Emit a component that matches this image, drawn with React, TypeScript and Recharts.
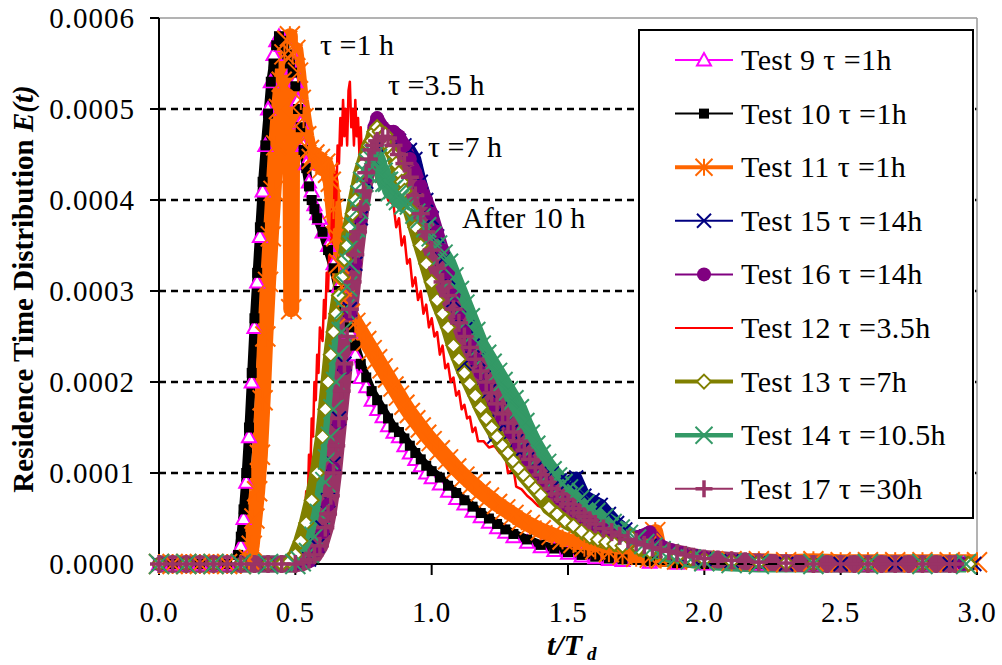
import React from 'react'
import { LineChart, Line, XAxis, YAxis, ReferenceLine } from 'recharts'

type Pt = [number, number]

// t/Td against E(t), E(t) written in units of 1e-4
const test9: Pt[] = [[0,0],[0.05,0],[0.1,0],[0.15,0],[0.2,0],[0.25,0],[0.28,0.05],[0.3,0.2],[0.31,0.5],[0.32,0.9],[0.33,1.4],[0.34,2.0],[0.35,2.6],[0.36,3.1],[0.37,3.6],[0.38,4.1],[0.39,4.6],[0.4,5.0],[0.41,5.3],[0.42,5.6],[0.43,5.75],[0.44,5.8],[0.45,5.7],[0.46,5.75],[0.47,5.6],[0.48,5.65],[0.49,5.45],[0.5,5.3],[0.51,5.1],[0.52,4.85],[0.53,4.6],[0.54,4.4],[0.55,4.2],[0.56,4.1],[0.57,3.95],[0.58,3.85],[0.59,3.8],[0.6,3.65],[0.62,3.5],[0.64,3.3],[0.66,3.05],[0.68,2.8],[0.7,2.55],[0.72,2.3],[0.74,2.05],[0.76,1.95],[0.78,1.8],[0.8,1.7],[0.82,1.62],[0.84,1.52],[0.86,1.45],[0.88,1.4],[0.9,1.3],[0.92,1.22],[0.94,1.15],[0.96,1.08],[0.98,1.0],[1.0,0.95],[1.03,0.88],[1.06,0.8],[1.09,0.72],[1.12,0.66],[1.15,0.58],[1.18,0.52],[1.21,0.46],[1.24,0.4],[1.27,0.35],[1.3,0.3],[1.35,0.24],[1.4,0.19],[1.45,0.15],[1.5,0.12],[1.55,0.09],[1.6,0.07],[1.65,0.05],[1.7,0.04],[1.8,0.02],[1.9,0.01],[2.0,0],[2.2,0],[2.4,0],[2.6,0],[2.8,0],[2.95,0]]

const test10: Pt[] = [[0,0],[0.05,0],[0.1,0],[0.15,0],[0.2,0],[0.25,0],[0.29,0.1],[0.3,0.3],[0.31,0.6],[0.32,1.0],[0.33,1.5],[0.34,2.1],[0.35,2.7],[0.36,3.2],[0.37,3.7],[0.38,4.2],[0.39,4.6],[0.4,4.95],[0.41,5.3],[0.42,5.5],[0.43,5.7],[0.44,5.8],[0.45,5.75],[0.46,5.7],[0.47,5.6],[0.48,5.5],[0.49,5.4],[0.5,5.25],[0.51,5.0],[0.52,4.8],[0.53,4.55],[0.54,4.35],[0.55,4.15],[0.56,4.0],[0.57,3.9],[0.58,3.8],[0.6,3.65],[0.62,3.45],[0.64,3.25],[0.66,3.0],[0.68,2.8],[0.7,2.6],[0.72,2.4],[0.74,2.2],[0.76,2.05],[0.78,1.9],[0.8,1.8],[0.82,1.7],[0.84,1.6],[0.86,1.5],[0.88,1.45],[0.9,1.38],[0.92,1.3],[0.94,1.22],[0.96,1.15],[0.98,1.08],[1.0,1.02],[1.03,0.95],[1.06,0.86],[1.09,0.78],[1.12,0.7],[1.15,0.63],[1.18,0.56],[1.21,0.5],[1.24,0.44],[1.27,0.38],[1.3,0.33],[1.35,0.27],[1.4,0.21],[1.45,0.17],[1.5,0.13],[1.55,0.1],[1.6,0.08],[1.65,0.06],[1.7,0.05],[1.8,0.03],[1.9,0.01],[2.0,0],[2.2,0],[2.4,0],[2.6,0],[2.8,0],[2.95,0]]

const test11: Pt[] = [[0,0],[0.05,0],[0.1,0],[0.15,0],[0.2,0],[0.25,0],[0.3,0],[0.33,0.05],[0.34,0.2],[0.35,0.5],[0.36,0.8],[0.37,1.2],[0.38,1.8],[0.39,2.5],[0.4,3.1],[0.41,3.6],[0.42,4.1],[0.43,4.6],[0.44,5.0],[0.45,5.3],[0.46,5.6],[0.47,5.75],[0.48,5.8],[0.485,2.8],[0.49,5.6],[0.5,5.65],[0.51,5.4],[0.52,5.1],[0.53,4.9],[0.54,4.7],[0.55,4.55],[0.56,4.45],[0.57,4.5],[0.58,4.4],[0.59,4.45],[0.6,4.35],[0.61,4.4],[0.62,4.3],[0.63,4.2],[0.64,3.9],[0.65,3.6],[0.66,3.3],[0.67,3.05],[0.68,2.9],[0.7,2.75],[0.72,2.65],[0.74,2.55],[0.76,2.45],[0.78,2.35],[0.8,2.25],[0.82,2.15],[0.84,2.05],[0.86,1.95],[0.88,1.85],[0.9,1.75],[0.92,1.66],[0.94,1.58],[0.96,1.5],[0.98,1.42],[1.0,1.35],[1.03,1.25],[1.06,1.15],[1.09,1.05],[1.12,0.96],[1.15,0.88],[1.18,0.8],[1.21,0.73],[1.24,0.66],[1.27,0.6],[1.3,0.54],[1.33,0.48],[1.36,0.43],[1.4,0.37],[1.44,0.32],[1.48,0.27],[1.52,0.23],[1.56,0.19],[1.6,0.16],[1.65,0.13],[1.7,0.1],[1.75,0.08],[1.8,0.07],[1.82,0.35],[1.84,0.06],[1.9,0.05],[2.0,0.04],[2.1,0.03],[2.2,0.03],[2.3,0.02],[2.4,0.03],[2.5,0.02],[2.6,0.02],[2.7,0.02],[2.8,0.02],[2.9,0.02],[3.0,0.02]]

const test15: Pt[] = [[0,0],[0.1,0],[0.2,0],[0.3,0],[0.4,0],[0.5,0],[0.55,0.05],[0.58,0.2],[0.6,0.4],[0.62,0.7],[0.64,1.1],[0.66,1.6],[0.68,2.2],[0.7,2.8],[0.72,3.3],[0.74,3.8],[0.76,4.2],[0.78,4.45],[0.8,4.6],[0.82,4.7],[0.84,4.72],[0.86,4.7],[0.88,4.65],[0.9,4.6],[0.92,4.55],[0.94,4.45],[0.96,4.2],[0.98,4.0],[1.0,3.8],[1.02,3.6],[1.04,3.35],[1.06,3.15],[1.08,2.9],[1.1,2.7],[1.12,2.2],[1.13,2.6],[1.15,2.4],[1.17,2.25],[1.19,2.05],[1.21,1.9],[1.23,1.4],[1.25,1.7],[1.27,1.55],[1.29,1.45],[1.31,1.35],[1.33,1.25],[1.35,1.15],[1.38,1.05],[1.41,0.95],[1.44,1.0],[1.47,0.92],[1.5,0.9],[1.53,0.95],[1.56,0.75],[1.59,0.7],[1.62,0.65],[1.65,0.55],[1.68,0.45],[1.71,0.38],[1.74,0.3],[1.77,0.25],[1.8,0.2],[1.85,0.15],[1.9,0.11],[1.95,0.08],[2.0,0.05],[2.1,0.03],[2.2,0.01],[2.3,0],[2.5,0],[2.7,0],[2.9,0],[2.99,0]]

const test16: Pt[] = [[0,0],[0.1,0],[0.2,0],[0.3,0],[0.4,0],[0.5,0],[0.55,0.03],[0.58,0.15],[0.6,0.35],[0.62,0.65],[0.64,1.05],[0.66,1.55],[0.68,2.15],[0.7,2.75],[0.72,3.3],[0.74,3.8],[0.76,4.25],[0.78,4.6],[0.79,4.8],[0.8,4.9],[0.82,4.8],[0.84,4.75],[0.86,4.75],[0.88,4.7],[0.9,4.6],[0.92,4.45],[0.94,4.3],[0.96,4.15],[0.98,4.0],[1.0,3.85],[1.02,3.65],[1.04,3.45],[1.06,3.2],[1.08,2.95],[1.1,2.75],[1.12,2.55],[1.14,2.4],[1.16,2.25],[1.18,2.1],[1.2,1.95],[1.23,1.75],[1.26,1.6],[1.29,1.45],[1.32,1.3],[1.35,1.15],[1.38,1.02],[1.41,0.9],[1.44,0.8],[1.47,0.72],[1.5,0.64],[1.53,0.57],[1.56,0.5],[1.6,0.43],[1.64,0.37],[1.68,0.32],[1.72,0.28],[1.76,0.3],[1.8,0.35],[1.84,0.2],[1.88,0.15],[1.92,0.12],[1.96,0.09],[2.0,0.07],[2.1,0.04],[2.2,0.02],[2.3,0.01],[2.4,0],[2.6,0],[2.8,0],[2.95,0]]

const test12: Pt[] = [[0,0],[0.1,0],[0.2,0],[0.3,0],[0.4,0],[0.48,0],[0.5,0.15],[0.51,0.1],[0.52,0.45],[0.53,0.35],[0.54,0.8],[0.545,0.6],[0.55,1.2],[0.555,1.0],[0.56,1.6],[0.565,1.4],[0.57,2.0],[0.575,1.8],[0.58,2.3],[0.585,2.1],[0.59,2.6],[0.6,2.45],[0.605,2.9],[0.61,2.7],[0.615,3.2],[0.62,3.0],[0.625,3.5],[0.63,3.3],[0.635,3.9],[0.64,3.7],[0.645,4.3],[0.65,4.0],[0.655,4.6],[0.66,4.4],[0.665,4.9],[0.67,4.6],[0.675,5.1],[0.68,4.7],[0.685,5.0],[0.69,4.6],[0.695,5.2],[0.7,5.3],[0.705,4.8],[0.71,5.0],[0.715,4.6],[0.72,5.1],[0.725,4.7],[0.73,4.9],[0.735,4.5],[0.74,4.8],[0.745,4.4],[0.75,4.6],[0.76,4.5],[0.77,4.3],[0.78,4.45],[0.8,4.2],[0.82,4.25],[0.84,4.0],[0.86,3.95],[0.87,3.7],[0.88,3.8],[0.89,3.5],[0.9,3.6],[0.91,3.3],[0.92,3.35],[0.93,3.05],[0.94,3.15],[0.95,2.9],[0.96,3.0],[0.97,2.75],[0.98,2.85],[0.99,2.6],[1.0,2.7],[1.01,2.5],[1.02,2.55],[1.03,2.3],[1.04,2.4],[1.05,2.15],[1.06,2.2],[1.07,2.0],[1.08,2.05],[1.09,1.85],[1.1,1.9],[1.11,1.7],[1.12,1.75],[1.13,1.6],[1.14,1.62],[1.15,1.45],[1.16,1.5],[1.17,1.35],[1.19,1.35],[1.21,1.28],[1.23,1.3],[1.25,1.22],[1.27,1.2],[1.28,1.0],[1.3,1.05],[1.31,0.85],[1.33,0.82],[1.35,0.75],[1.37,0.7],[1.39,0.64],[1.42,0.6],[1.45,0.55],[1.5,0.48],[1.55,0.42],[1.6,0.35],[1.65,0.3],[1.7,0.25],[1.75,0.2],[1.8,0.16],[1.85,0.12],[1.9,0.1],[2.0,0.06],[2.1,0.04],[2.2,0.02],[2.4,0.01],[2.6,0],[2.95,0]]

const test13: Pt[] = [[0,0],[0.1,0],[0.2,0],[0.3,0],[0.4,0],[0.45,0],[0.48,0.03],[0.5,0.1],[0.52,0.25],[0.54,0.45],[0.56,0.7],[0.58,1.0],[0.6,1.4],[0.61,1.7],[0.62,2.0],[0.63,2.3],[0.64,2.55],[0.65,2.75],[0.66,2.95],[0.67,3.15],[0.68,3.35],[0.69,3.5],[0.7,3.7],[0.71,3.85],[0.72,4.0],[0.73,4.15],[0.74,4.3],[0.75,4.4],[0.76,4.5],[0.77,4.6],[0.78,4.65],[0.79,4.75],[0.8,4.8],[0.81,4.75],[0.82,4.7],[0.83,4.72],[0.84,4.6],[0.85,4.55],[0.86,4.5],[0.87,4.4],[0.88,4.3],[0.89,4.2],[0.9,4.1],[0.92,3.9],[0.94,3.7],[0.96,3.5],[0.98,3.3],[1.0,3.1],[1.02,2.9],[1.04,2.75],[1.06,2.6],[1.08,2.4],[1.1,2.25],[1.12,2.1],[1.14,1.98],[1.16,1.85],[1.18,1.72],[1.2,1.6],[1.22,1.5],[1.24,1.4],[1.26,1.3],[1.28,1.22],[1.3,1.13],[1.32,1.05],[1.34,0.97],[1.36,0.9],[1.38,0.83],[1.4,0.76],[1.43,0.62],[1.46,0.55],[1.49,0.47],[1.52,0.42],[1.55,0.36],[1.58,0.3],[1.61,0.27],[1.64,0.24],[1.67,0.22],[1.7,0.2],[1.73,0.3],[1.76,0.17],[1.8,0.14],[1.85,0.11],[1.9,0.08],[1.95,0.06],[2.0,0.05],[2.1,0.03],[2.2,0.02],[2.3,0.01],[2.4,0],[2.6,0],[2.8,0],[2.97,0]]

const test14: Pt[] = [[0,0],[0.1,0],[0.2,0],[0.3,0],[0.4,0],[0.5,0],[0.52,0.03],[0.55,0.12],[0.57,0.3],[0.59,0.55],[0.61,0.9],[0.62,1.15],[0.63,1.4],[0.64,1.7],[0.65,2.0],[0.66,2.3],[0.67,2.55],[0.68,2.8],[0.69,3.05],[0.7,3.3],[0.71,3.5],[0.72,3.7],[0.73,3.9],[0.74,4.05],[0.75,4.2],[0.76,4.3],[0.77,4.4],[0.78,4.45],[0.79,4.5],[0.8,4.45],[0.81,4.35],[0.82,4.3],[0.83,4.2],[0.84,4.2],[0.85,4.1],[0.86,4.12],[0.87,4.05],[0.88,4.0],[0.89,4.05],[0.9,3.95],[0.92,3.95],[0.94,3.85],[0.96,3.8],[0.98,3.7],[1.0,3.6],[1.02,3.5],[1.04,3.4],[1.06,3.3],[1.08,3.15],[1.1,3.0],[1.12,2.85],[1.14,2.7],[1.16,2.55],[1.18,2.4],[1.2,2.3],[1.22,2.2],[1.24,2.1],[1.26,2.0],[1.28,1.9],[1.3,1.8],[1.32,1.7],[1.34,1.55],[1.36,1.42],[1.38,1.3],[1.4,1.2],[1.42,1.1],[1.44,1.02],[1.46,0.95],[1.48,0.88],[1.5,0.82],[1.52,0.76],[1.54,0.7],[1.56,0.65],[1.58,0.6],[1.6,0.56],[1.63,0.5],[1.66,0.44],[1.69,0.38],[1.72,0.32],[1.75,0.27],[1.78,0.22],[1.81,0.18],[1.84,0.14],[1.87,0.11],[1.9,0.08],[1.95,0.05],[2.0,0.03],[2.1,0.01],[2.2,0],[2.4,0],[2.6,0],[2.8,0],[2.96,0]]

const test17: Pt[] = [[0,0],[0.05,0],[0.1,0],[0.15,0],[0.2,0],[0.25,0],[0.3,0],[0.35,0],[0.4,0],[0.45,0],[0.5,0],[0.53,0.02],[0.55,0.05],[0.57,0.1],[0.59,0.2],[0.61,0.4],[0.62,0.55],[0.63,0.75],[0.64,1.0],[0.65,1.3],[0.66,1.6],[0.67,1.9],[0.68,2.2],[0.69,2.5],[0.7,2.8],[0.71,3.1],[0.72,3.4],[0.73,3.65],[0.74,3.9],[0.75,4.1],[0.76,4.3],[0.77,4.45],[0.78,4.55],[0.79,4.6],[0.8,4.65],[0.82,4.7],[0.84,4.68],[0.86,4.6],[0.88,4.5],[0.9,4.4],[0.92,4.25],[0.94,4.05],[0.96,3.85],[0.98,3.65],[1.0,3.45],[1.02,3.25],[1.04,3.1],[1.06,2.95],[1.08,2.8],[1.1,2.65],[1.12,2.5],[1.14,2.38],[1.16,2.25],[1.18,2.12],[1.2,2.0],[1.22,1.88],[1.24,1.76],[1.26,1.65],[1.28,1.55],[1.3,1.45],[1.32,1.35],[1.34,1.25],[1.36,1.15],[1.38,1.06],[1.4,0.98],[1.42,0.9],[1.44,0.83],[1.46,0.77],[1.48,0.71],[1.5,0.66],[1.52,0.61],[1.54,0.56],[1.56,0.52],[1.58,0.48],[1.6,0.44],[1.63,0.39],[1.66,0.35],[1.69,0.31],[1.72,0.27],[1.75,0.24],[1.78,0.21],[1.81,0.18],[1.84,0.16],[1.87,0.14],[1.9,0.12],[1.93,0.1],[1.96,0.08],[2.0,0.06],[2.05,0.05],[2.1,0.04],[2.15,0.03],[2.2,0.02],[2.3,0.01],[2.4,0],[2.45,0],[2.5,0],[2.55,0],[2.6,0],[2.65,0],[2.7,0],[2.75,0],[2.8,0],[2.85,0],[2.9,0],[2.92,0]]

const xTicks = [0, 0.5, 1, 1.5, 2, 2.5, 3]
const yTicks = [0, 0.0001, 0.0002, 0.0003, 0.0004, 0.0005, 0.0006]
const gridLevels = [0.0001, 0.0002, 0.0003, 0.0004, 0.0005]

const FONT = 'Liberation Serif, serif'

type Kind = 'triangle' | 'square' | 'asterisk' | 'cross' | 'circle' | 'diamond' | 'plus' | 'none'

interface SeriesDef {
  name: string
  data: Pt[]
  color: string
  marker: Kind
  size: number
  plotWidth: number
  legendWidth: number
}

// draw order follows the legend order, last one on top.
// plotWidth is wide on purpose: the original points are so dense they read as bands
const series: SeriesDef[] = [
  { name: 'Test 9 τ =1h', data: test9, color: '#FF00FF', marker: 'triangle', size: 14, plotWidth: 6, legendWidth: 2 },
  { name: 'Test 10 τ =1h', data: test10, color: '#000000', marker: 'square', size: 10, plotWidth: 9, legendWidth: 2 },
  { name: 'Test 11 τ =1h', data: test11, color: '#FF6600', marker: 'asterisk', size: 20, plotWidth: 16, legendWidth: 4 },
  { name: 'Test 15 τ =14h', data: test15, color: '#000080', marker: 'cross', size: 14, plotWidth: 12, legendWidth: 2 },
  { name: 'Test 16 τ =14h', data: test16, color: '#800080', marker: 'circle', size: 14, plotWidth: 13, legendWidth: 2 },
  { name: 'Test 12 τ =3.5h', data: test12, color: '#FF0000', marker: 'none', size: 0, plotWidth: 2.5, legendWidth: 2 },
  { name: 'Test 13 τ =7h', data: test13, color: '#808000', marker: 'diamond', size: 14, plotWidth: 15, legendWidth: 4 },
  { name: 'Test 14 τ =10.5h', data: test14, color: '#339966', marker: 'cross', size: 20, plotWidth: 17, legendWidth: 4.5 },
  { name: 'Test 17 τ =30h', data: test17, color: '#993366', marker: 'plus', size: 18, plotWidth: 17, legendWidth: 2 },
]

function Marker({ kind, x, y, color, size }: { kind: Kind; x: number; y: number; color: string; size: number }) {
  const h = size / 2
  switch (kind) {
    case 'triangle':
      return <polygon points={`${x},${y - h} ${x - h},${y + h * 0.8} ${x + h},${y + h * 0.8}`} fill="#fff" stroke={color} strokeWidth={2} />
    case 'square':
      return <rect x={x - h} y={y - h} width={size} height={size} fill={color} />
    case 'asterisk':
      return (
        <g stroke={color} strokeWidth={2}>
          <line x1={x} y1={y - h} x2={x} y2={y + h} />
          <line x1={x - h} y1={y - h} x2={x + h} y2={y + h} />
          <line x1={x - h} y1={y + h} x2={x + h} y2={y - h} />
        </g>
      )
    case 'cross':
      return (
        <g stroke={color} strokeWidth={2}>
          <line x1={x - h} y1={y - h} x2={x + h} y2={y + h} />
          <line x1={x - h} y1={y + h} x2={x + h} y2={y - h} />
        </g>
      )
    case 'circle':
      return <circle cx={x} cy={y} r={h} fill={color} />
    case 'diamond':
      return <polygon points={`${x},${y - h} ${x + h},${y} ${x},${y + h} ${x - h},${y}`} fill="#fff" stroke={color} strokeWidth={2} />
    case 'plus':
      return (
        <g stroke={color} strokeWidth={3.5}>
          <line x1={x} y1={y - h} x2={x} y2={y + h} />
          <line x1={x - h} y1={y} x2={x + h} y2={y} />
        </g>
      )
    default:
      return <g />
  }
}

const toRows = (pts: Pt[]) => pts.map(([x, v]) => ({ x, y: v / 10000 }))

export default function App() {
  return (
    <div style={{ position: 'absolute', left: 0, top: 0, width: 1002, height: 665, background: '#fff' }}>
      <LineChart width={1002} height={665} margin={{ top: 18, right: 25, bottom: 41, left: 59 }}>
        <XAxis
          dataKey="x"
          type="number"
          domain={[0, 3]}
          ticks={xTicks}
          interval={0}
          tickFormatter={(v: number) => v.toFixed(1)}
          tick={{ fill: '#000', fontSize: 29, fontFamily: FONT, letterSpacing: 1 }}
          axisLine={{ stroke: '#000', strokeWidth: 2 }}
          tickLine={{ stroke: '#000', strokeWidth: 2 }}
          tickSize={11}
          tickMargin={26}
          height={60}
        />
        <YAxis
          type="number"
          domain={[0, 0.0006]}
          ticks={yTicks}
          interval={0}
          tickFormatter={(v: number) => v.toFixed(4)}
          tick={{ fill: '#000', fontSize: 29, fontFamily: FONT, letterSpacing: 1 }}
          axisLine={{ stroke: '#000', strokeWidth: 2 }}
          tickLine={{ stroke: '#000', strokeWidth: 2 }}
          tickSize={9}
          tickMargin={15}
          width={100}
        />
        {gridLevels.map(g => (
          <ReferenceLine key={g} y={g} stroke="#000" strokeWidth={2.5} strokeDasharray="7 5" />
        ))}
        <ReferenceLine y={0.0006} stroke="#9a9a9a" strokeWidth={1.5} />
        <ReferenceLine x={3} stroke="#9a9a9a" strokeWidth={1.5} />
        {series.map(s => (
          <Line
            key={s.name}
            data={toRows(s.data)}
            dataKey="y"
            type="linear"
            stroke={s.color}
            strokeWidth={s.plotWidth}
            strokeLinejoin="round"
            isAnimationActive={false}
            activeDot={false}
            dot={
              s.marker === 'none'
                ? false
                : (p: any) => (
                    <g key={`${s.name}-${p.index}`}>
                      <Marker kind={s.marker} x={p.cx} y={p.cy} color={s.color} size={s.size} />
                    </g>
                  )
            }
          />
        ))}
      </LineChart>

      <svg width={1002} height={665} style={{ position: 'absolute', left: 0, top: 0, pointerEvents: 'none' }} fontFamily={FONT}>
        <text transform="translate(33,289) rotate(-90)" textAnchor="middle" fontSize={29} fontWeight="bold" fill="#000">
          Residence Time Distribution <tspan fontStyle="italic">E(t)</tspan>
        </text>
        <text x={547} y={655} fontSize={30} fontWeight="bold" fontStyle="italic" fill="#000">
          t/T<tspan fontSize={19} dx={5} dy={5}>d</tspan>
        </text>

        <text x={320} y={55} fontSize={30} fill="#000">τ =1 h</text>
        <text x={388} y={95} fontSize={30} fill="#000">τ =3.5 h</text>
        <text x={428} y={157} fontSize={30} fill="#000">τ =7 h</text>
        <text x={462} y={228} fontSize={30} fill="#000">After 10 h</text>

        <rect x={639} y={30} width={334} height={488} fill="#fff" stroke="#000" strokeWidth={2} />
        {series.map((s, i) => {
          const cy = 60 + i * 53.6
          return (
            <g key={s.name}>
              <line x1={675} x2={733} y1={cy} y2={cy} stroke={s.color} strokeWidth={s.legendWidth} />
              <Marker kind={s.marker} x={704} y={cy} color={s.color} size={Math.min(s.size, 17)} />
              <text x={741} y={cy + 10} fontSize={30} letterSpacing={0.4} fill="#000">{s.name}</text>
            </g>
          )
        })}
      </svg>
    </div>
  )
}
